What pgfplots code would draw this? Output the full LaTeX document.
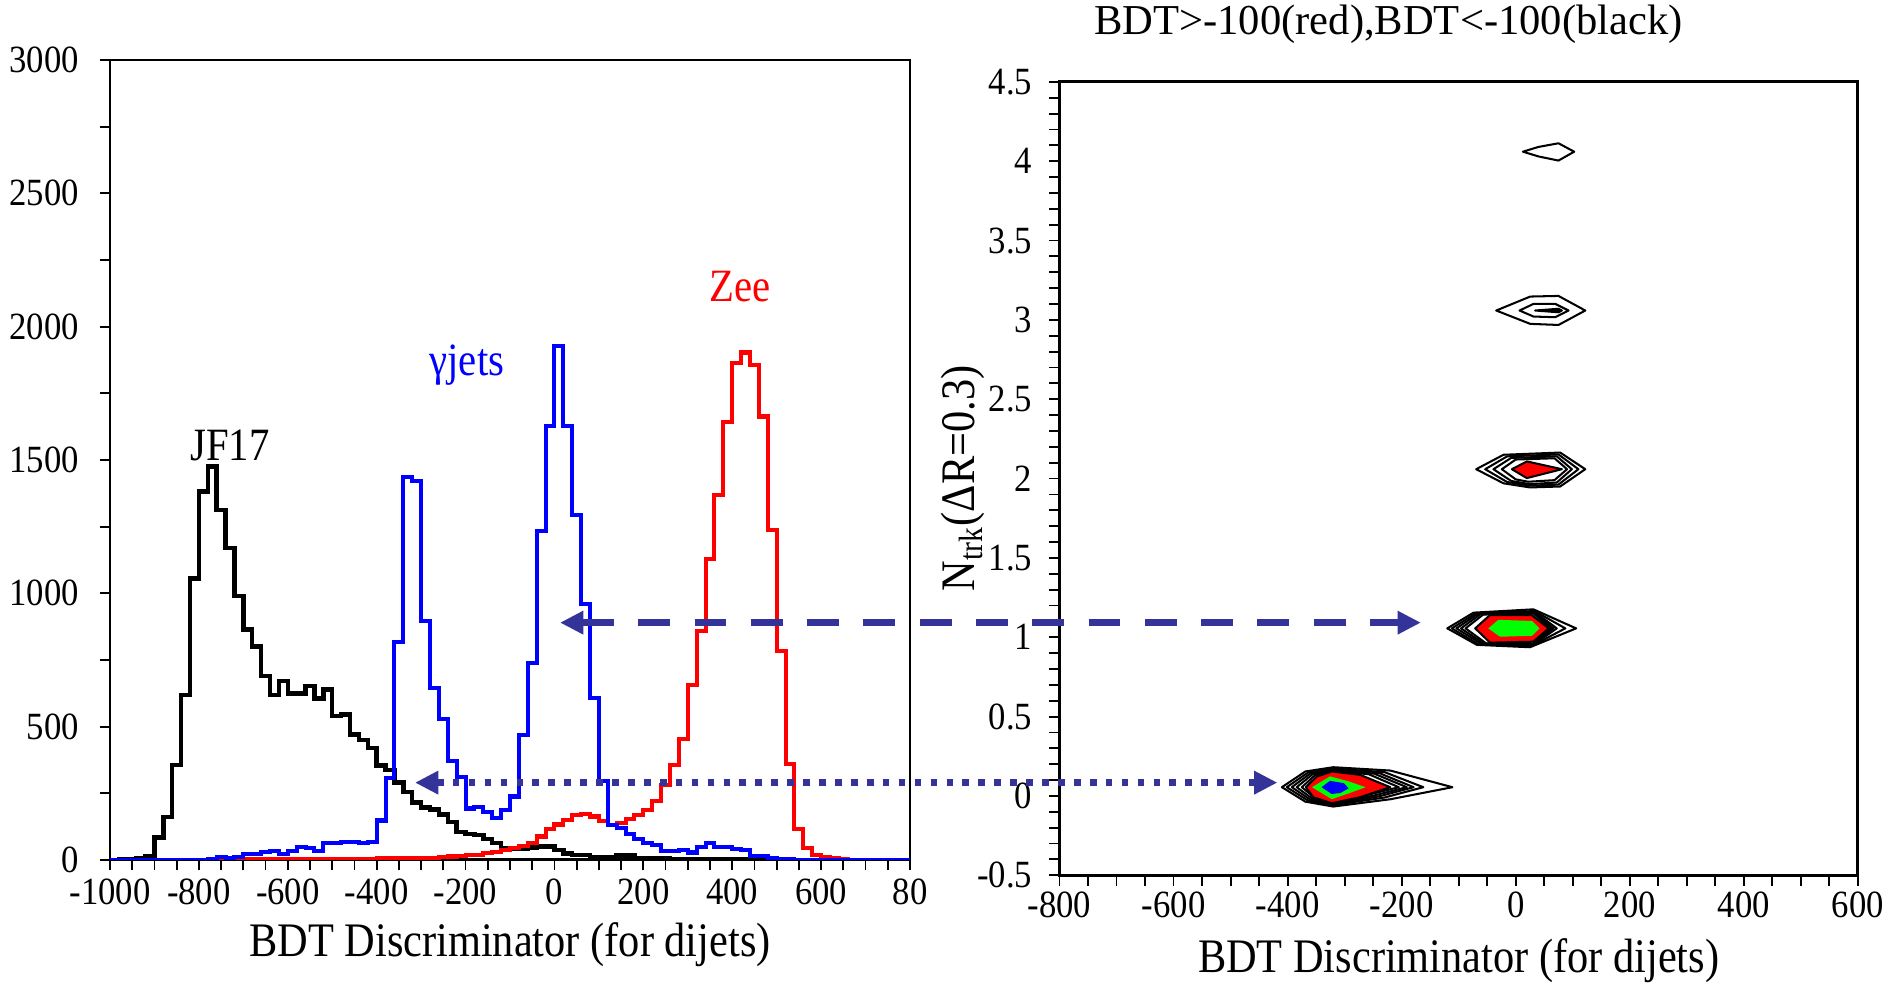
\documentclass[border=0pt]{standalone}
\usepackage{fontspec}
\setmainfont{Liberation Serif}
\newfontfamily\tickfont{Liberation Serif}[FakeStretch=0.9]
\newfontfamily\labfont{Liberation Serif}[FakeStretch=0.88]
\usepackage{pgfplots}
\usepackage{pgfplotstable}
\pgfplotsset{compat=1.18}
\usetikzlibrary{arrows.meta}
\definecolor{arr}{RGB}{51,51,153}

% bin left edges, counts per 20-unit bin
\pgfplotstableread{
x jf gj zee
-1000 0 0 0
-980 2 0 0
-960 4 0 0
-940 6 0 0
-920 15 0 0
-900 84 0 0
-880 162 0 0
-860 356 0 0
-840 619 0 0
-820 1056 0 0
-800 1381 0 0
-780 1475 5 0
-760 1312 12 0
-740 1169 6 1
-720 990 10 1
-700 865 21 2
-680 800 24 3
-660 690 29 3
-640 619 32 3
-620 672 22 3
-600 625 35 4
-580 625 50 4
-560 652 44 4
-540 606 35 4
-520 640 62 4
-500 540 65 4
-480 546 69 4
-460 471 66 5
-440 450 62 5
-420 419 66 5
-400 354 148 6
-380 337 308 6
-360 291 817 6
-340 255 1436 7
-320 216 1420 7
-300 196 896 8
-280 190 646 9
-260 170 528 10
-240 143 370 13
-220 104 312 14
-200 97 193 17
-180 93 200 20
-160 78 179 26
-140 64 159 30
-120 45 186 36
-100 42 238 45
-80 42 468 54
-60 47 738 64
-40 51 1232 88
-20 51 1627 117
0 38 1929 133
20 25 1627 150
40 18 1295 170
60 18 959 174
80 12 607 163
100 12 297 146
120 9 130 130
140 16 120 137
160 16 97 152
180 8 78 168
200 6 64 188
220 5 55 220
240 5 32 282
260 4 32 357
280 4 36 455
300 3 28 657
320 3 47 857
340 3 64 1130
360 2 47 1367
380 2 47 1644
400 2 41 1865
420 1 38 1903
440 1 16 1857
460 1 14 1663
480 1 8 1238
500 0 3 784
520 0 2 361
540 0 1 117
560 0 0 45
580 0 0 18
600 0 0 12
620 0 0 8
640 0 0 3
660 0 0 0
680 0 0 0
700 0 0 0
720 0 0 0
740 0 0 0
760 0 0 0
780 0 0 0
800 0 0 0
}\hist

\pgfplotsset{
  every axis title shift=0pt,
  panel/.style={scale only axis, anchor=south west,
    tick align=outside, xtick pos=left, ytick pos=left,
    axis line style={line width=0.8pt},
    tick style={black, line width=0.5pt},
    major tick length=2.8pt, minor tick length=2.8pt,
    tick label style={font=\tickfont\fontsize{10.4}{12}\selectfont, inner sep=0pt},
    /pgf/number format/assume math mode=true,
    /pgf/number format/1000 sep={},
    label style={font=\labfont\fontsize{13}{15}\selectfont, inner sep=0pt}},
  hist/.style={const plot, no marks, line width=1.1pt},
  cont/.style={draw=black, line width=0.55pt, line join=round, no marks},
}

\begin{document}
\begin{tikzpicture}
\path (0,0) rectangle (509.76pt,265.41pt);

\begin{axis}[panel, at={(29.7pt,33.21pt)}, width=216pt, height=216pt,
  xmin=-1000, xmax=800, ymin=0, ymax=3000,
  xtick={-1000,-800,...,800},
  xticklabels={-1000,-800,-600,-400,-200,0,200,400,600,80},
  minor x tick num=3,
  ytick={0,500,...,3000}, minor y tick num=1,
  yticklabel style={xshift=-5.4pt},
  xticklabel style={yshift=-2.2pt},
  xlabel={BDT Discriminator (for dijets)},
  xlabel style={at={(axis description cs:0.5,-0.106)}, anchor=center}]
\addplot[hist, black, line width=1.2pt] table[x=x, y=jf] {\hist};
\addplot[hist, red] table[x=x, y=zee] {\hist};
\addplot[hist, blue] table[x=x, y=gj] {\hist};
\node[font=\labfont\fontsize{12.5}{14}\selectfont, inner sep=0pt] at (axis cs:-730,1554) {JF17};
\node[font=\labfont\fontsize{12.5}{14}\selectfont, inner sep=0pt, blue] at (axis cs:-197,1856) {γjets};
\node[font=\labfont\fontsize{12.5}{14}\selectfont, inner sep=0pt, red] at (axis cs:418,2150) {Zee};
\coordinate (dL) at (axis cs:12.6,890);
\coordinate (tL) at (axis cs:-313.7,290);
\end{axis}

\begin{axis}[panel, at={(286.07pt,29.08pt)}, width=215.54pt, height=214.22pt,
  xmin=-800, xmax=600, ymin=-0.5, ymax=4.5,
  xtick={-800,-600,...,600},
  xticklabels={-800,-600,-400,-200,0,200,400,600},
  minor x tick num=3,
  ytick={-0.5,0,0.5,1,1.5,2,2.5,3,3.5,4,4.5},
  yticklabels={-0.5,0,0.5,1,1.5,2,2.5,3,3.5,4,4.5},
  minor y tick num=4,
  yticklabel style={xshift=-4.4pt},
  xticklabel style={yshift=-1.6pt},
  xlabel={BDT Discriminator (for dijets)},
  xlabel style={at={(axis description cs:0.5,-0.108)}, anchor=center},
  ylabel={N\textsubscript{trk}(ΔR=0.3)},
  ylabel style={at={(axis description cs:-0.121,0.5)}, anchor=center},
  title={BDT>-100(red),BDT<-100(black)},
  title style={at={(axis description cs:0.412,1.073)}, anchor=center, inner sep=0pt, font=\fontsize{11.5}{13}\selectfont}]
% N=0
\addplot[cont] coordinates {(-410,0.055) (-369,0.154) (-320,0.181) (-220,0.16) (-111,0.055) (-220,-0.021) (-320,-0.067) (-369,-0.036)} -- cycle;
\addplot[cont] coordinates {(-401.5,0.055) (-364,0.148) (-320,0.172) (-230,0.15) (-162,0.055) (-230,-0.01) (-320,-0.058) (-364,-0.03)} -- cycle;
\addplot[cont] coordinates {(-392.7,0.055) (-360,0.142) (-320,0.165) (-240,0.145) (-179,0.055) (-240,-0.003) (-320,-0.052) (-360,-0.024)} -- cycle;
\addplot[cont] coordinates {(-384,0.055) (-356,0.137) (-320,0.16) (-248,0.14) (-191,0.055) (-248,0.003) (-320,-0.048) (-356,-0.019)} -- cycle;
\addplot[cont] coordinates {(-375,0.055) (-352,0.13) (-321,0.157) (-258,0.137) (-205,0.055) (-258,0.008) (-321,-0.046) (-352,-0.014)} -- cycle;
\addplot[cont, fill=red] coordinates {(-368,0.055) (-349,0.122) (-322.5,0.154) (-273,0.133) (-220,0.055) (-273,-0.008) (-322.5,-0.046) (-355,-0.008)} -- cycle;
\addplot[draw=green, fill=green, no marks] coordinates {(-354.7,0.055) (-325.4,0.118) (-296,0.09) (-267,0.055) (-296,0.017) (-322.5,-0.015)} -- cycle;
\addplot[draw=blue, fill=blue, no marks] coordinates {(-338.3,0.055) (-325.4,0.09) (-302,0.076) (-295,0.049) (-308,0.023) (-322.5,0.017)} -- cycle;
% N=1
\addplot[cont] coordinates {(-120,1.056) (-74,1.155) (31,1.176) (106,1.056) (25,0.937) (-68,0.952)} -- cycle;
\addplot[cont] coordinates {(-112,1.056) (-70,1.15) (33,1.165) (87,1.056) (28,0.945) (-65,0.955)} -- cycle;
\addplot[cont] coordinates {(-104,1.056) (-66,1.148) (33,1.16) (72,1.056) (30,0.95) (-60,0.958)} -- cycle;
\addplot[cont] coordinates {(-96,1.056) (-62,1.145) (32,1.155) (66,1.056) (31,0.955) (-56,0.96)} -- cycle;
\addplot[cont] coordinates {(-88,1.056) (-57,1.143) (31,1.15) (62,1.056) (31,0.962) (-52,0.962)} -- cycle;
\addplot[cont, fill=red] coordinates {(-71,1.056) (-45,1.14) (28,1.14) (58,1.056) (31,0.972) (-45,0.966)} -- cycle;
\addplot[draw=green, fill=green, no marks] coordinates {(-46,1.056) (-30,1.105) (28,1.098) (40,1.056) (28,1.014) (-27,1.008)} -- cycle;
% N=2
\addplot[cont] coordinates {(-69.3,2.059) (-21.4,2.15) (78,2.164) (122,2.059) (78,1.95) (25.4,1.944) (-21.4,1.97)} -- cycle;
\addplot[cont] coordinates {(-53.5,2.059) (-15,2.14) (75,2.152) (110,2.059) (75,1.962) (25,1.955) (-15,1.978)} -- cycle;
\addplot[cont] coordinates {(-39,2.059) (-8,2.13) (72,2.14) (98.5,2.059) (72,1.975) (25,1.965) (-8,1.985)} -- cycle;
\addplot[cont] coordinates {(-24.3,2.059) (0,2.12) (68,2.128) (90,2.059) (68,1.99) (22,1.98) (0,1.995)} -- cycle;
\addplot[cont, fill=red] coordinates {(-6.7,2.059) (19.6,2.108) (81,2.059) (19.6,2.003)} -- cycle;
% N=3
\addplot[cont] coordinates {(-34.2,3.059) (25.4,3.147) (75,3.151) (122,3.059) (75,2.968) (25.4,2.975)} -- cycle;
\addplot[cont] coordinates {(6.7,3.059) (31.3,3.101) (69.3,3.101) (92.7,3.059) (69.3,3.017) (31.3,3.021)} -- cycle;
\addplot[cont, fill=black] coordinates {(34,3.059) (75,3.07) (81,3.059) (75,3.048)} -- cycle;
% N=4
\addplot[cont] coordinates {(12.6,4.06) (40,4.09) (75,4.113) (102.6,4.06) (75,4.004) (40,4.03)} -- cycle;
\coordinate (dR) at (axis cs:-166.3,1.093);
\coordinate (tR) at (axis cs:-417.9,0.09);
\end{axis}

\draw[arr, line width=1.9pt, dash pattern=on 8.6pt off 6.6pt,
  {Triangle[length=6.3pt,width=6pt]}-{Triangle[length=6.3pt,width=6pt]}] (dL) -- (dL -| dR);
\draw[arr, line width=1.9pt, dash pattern=on 1.8pt off 2.5pt,
  {Triangle[length=6.3pt,width=6pt]}-{Triangle[length=6.3pt,width=6pt]}] (tL) -- (tL -| tR);
\end{tikzpicture}
\end{document}
